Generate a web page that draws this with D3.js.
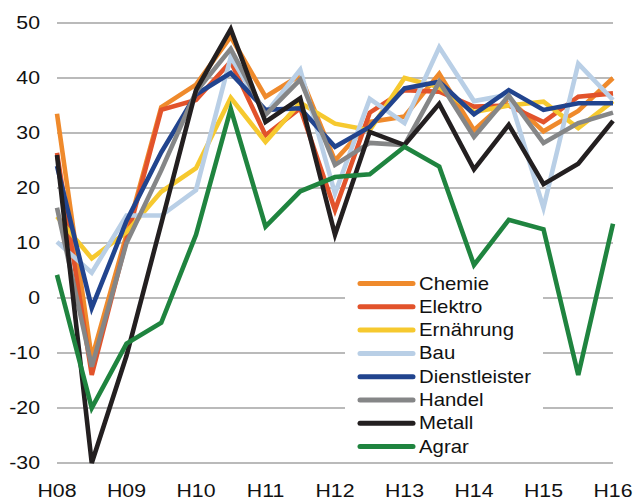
<!DOCTYPE html>
<html>
<head>
<meta charset="utf-8">
<script src="https://cdn.jsdelivr.net/npm/d3@7"></script>
<style>
  html, body { margin: 0; padding: 0; background: #fff; }
  svg { display: block; }
  text { font-family: "Liberation Sans", Arial, sans-serif; fill: #111; }
</style>
</head>
<body>
<svg id="chart" width="635" height="499"></svg>
<script>
// ---- data ----
const periods = ["H08","F08","H09","F09","H10","F10","H11","F11","H12","F12","H13","F13","H14","F14","H15","F15","H16"];
const xTickLabels = ["H08","H09","H10","H11","H12","H13","H14","H15","H16"];
const yTicks = [-30,-20,-10,0,10,20,30,40,50];

const seriesNames = ["Chemie","Elektro","Ernährung","Bau","Dienstleister","Handel","Metall","Agrar"];
const seriesColors = ["#ef8a2c","#e2532b","#f6c92f","#b9cfe6","#21448e","#858687","#231f20","#1f843f"];

const chemie        = [33.5, -11, 11.5, 34.7, 38.8, 47.5, 36.6, 40.5, 25, 32, 33, 40.8, 30.5, 36.2, 30.3, 34, 40];
const elektro       = [26.4, -14, 10.5, 34.2, 36, 43, 29.6, 34.5, 16, 33.7, 37.8, 37.5, 34.8, 35, 32, 36.6, 37.2];
const ernaehrung    = [14.8, 7.2, 12, 19.3, 23.6, 36.4, 28.4, 35.5, 31.7, 30.5, 40, 38.3, 33.8, 35, 35.7, 30.9, 35.8];
const bau           = [10.2, 4.6, 15, 15, 19.6, 43.8, 33.5, 41.5, 19, 36.2, 31.8, 45.6, 35.8, 37, 16.4, 42.6, 36];
const dienstleister = [24, -1.8, 14, 26.5, 37, 40.9, 34.2, 34.5, 27.5, 31.1, 38.1, 39.3, 33.4, 37.8, 34.2, 35.4, 35.4];
const handel        = [16.4, -12.5, 10, 23.2, 37.5, 45.3, 33.3, 39.7, 24.2, 28.2, 27.8, 39.3, 29.3, 36.8, 28.2, 31.8, 33.7];
const metall        = [26, -30, -10.5, 13.5, 37.8, 48.9, 32, 36.3, 11.5, 30.2, 27.8, 35.3, 23.4, 31.5, 20.7, 24.4, 32.2];
const agrar         = [4.2, -20, -8.3, -4.5, 11.5, 34.4, 13, 19.4, 22, 22.5, 27.5, 23.9, 6, 14.2, 12.5, -14, 13.5];

const seriesValues = [chemie, elektro, ernaehrung, bau, dienstleister, handel, metall, agrar];

// ---- layout ----
const svg = d3.select("#chart");
const plotLeft = 57, plotRight = 613, plotTop = 23, plotBottom = 463;
const stretch = 1.15;

const x = d3.scalePoint().domain(periods).range([plotLeft, plotRight]);
const y = d3.scaleLinear().domain([-30, 50]).range([plotBottom, plotTop]);

// gridlines
svg.append("g").selectAll("line").data(yTicks).join("line")
  .attr("x1", plotLeft).attr("x2", plotRight)
  .attr("y1", d => y(d)).attr("y2", d => y(d))
  .attr("stroke", "#a3a3a3").attr("stroke-width", 1.4);

// y axis labels
svg.append("g").selectAll("g").data(yTicks).join("g")
  .attr("transform", d => `translate(40,${y(d)}) scale(${stretch},1)`)
  .append("text")
  .attr("text-anchor", "end")
  .attr("dominant-baseline", "central")
  .attr("font-size", 18.5)
  .text(d => d);

// x axis labels
svg.append("g").selectAll("g").data(xTickLabels).join("g")
  .attr("transform", d => `translate(${x(d)},496.5) scale(${stretch},1)`)
  .append("text")
  .attr("text-anchor", "middle")
  .attr("font-size", 18.5)
  .text(d => d);

// lines
const line = d3.line().x((d, i) => x(periods[i])).y(d => y(d));
svg.append("g").selectAll("path").data(seriesValues).join("path")
  .attr("d", d => line(d))
  .attr("fill", "none")
  .attr("stroke", (d, i) => seriesColors[i])
  .attr("stroke-width", 4.6)
  .attr("stroke-linejoin", "miter")
  .attr("stroke-miterlimit", 4);

// legend
const lg = svg.append("g");
lg.append("rect").attr("x", 345).attr("y", 272).attr("width", 198).attr("height", 184).attr("fill", "#fff");
const rowY0 = 283.5, rowStep = 23.3;
seriesNames.forEach((name, i) => {
  const ry = rowY0 + i * rowStep;
  lg.append("line")
    .attr("x1", 360).attr("x2", 413).attr("y1", ry).attr("y2", ry)
    .attr("stroke", seriesColors[i]).attr("stroke-width", 5).attr("stroke-linecap", "round");
  lg.append("g").attr("transform", `translate(419,${ry}) scale(${stretch},1)`)
    .append("text")
    .attr("dominant-baseline", "central")
    .attr("font-size", 17.7)
    .text(name);
});
</script>
</body>
</html>
